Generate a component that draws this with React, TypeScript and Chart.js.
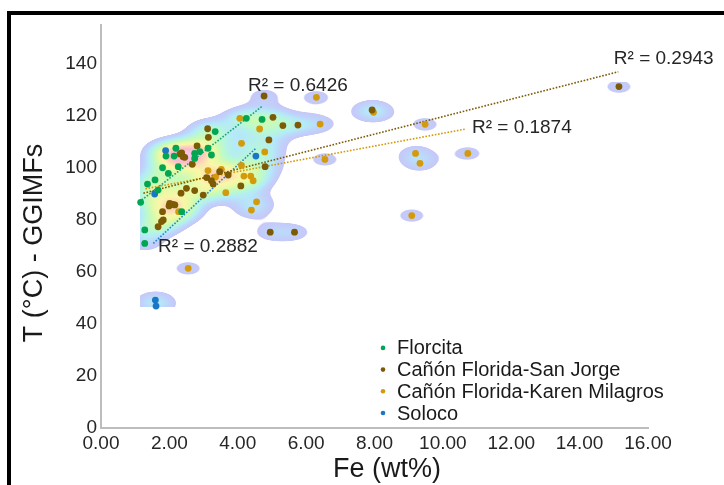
import { useEffect, useRef } from 'react';
import { Chart, registerables } from 'chart.js';
Chart.register(...registerables);

const seriesNames = ['Florcita', 'Cañón Florida-San Jorge', 'Cañón Florida-Karen Milagros', 'Soloco'];
const seriesColors = ['#00a651', '#7d5a05', '#d39a0c', '#1a76c6'];

const florcitaFe = [1.90, 2.19, 2.14, 2.74, 2.89, 2.74, 3.23, 3.13, 3.34, 4.25, 4.71, 1.80, 2.26, 1.97, 1.36, 1.58, 1.67, 1.16, 2.36, 1.28, 1.28];
const florcitaT = [104.6, 107.6, 104.6, 105.6, 106.3, 103.7, 105.0, 107.6, 114.0, 119.1, 118.7, 100.1, 100.5, 97.9, 93.8, 95.4, 91.5, 86.8, 83.2, 76.2, 71.0];

const sanJorgeFe = [4.77, 5.03, 5.32, 5.76, 3.12, 3.14, 4.91, 2.81, 2.31, 2.40, 2.45, 2.36, 2.67, 4.80, 3.09, 3.23, 3.28, 3.72, 3.47, 4.09, 2.50, 2.34, 2.74, 2.99, 2.01, 2.16, 1.99, 2.10, 1.80, 1.82, 1.77, 1.67, 4.95, 5.66, 15.15, 7.93];
const sanJorgeT = [127.7, 119.5, 116.3, 116.5, 115.1, 111.8, 110.8, 108.5, 105.4, 104.3, 104.1, 105.8, 101.4, 100.5, 96.3, 95.1, 93.8, 97.3, 98.6, 93.1, 92.2, 90.3, 91.3, 89.6, 86.4, 85.8, 85.4, 86.0, 83.2, 80.0, 79.4, 77.4, 75.3, 75.3, 131.3, 122.3];

const karenFe = [4.06, 4.64, 6.41, 6.30, 4.11, 4.79, 4.11, 3.13, 3.52, 4.18, 4.38, 4.45, 3.65, 4.55, 4.40, 2.27, 2.55, 6.55, 7.97, 9.48, 9.20, 9.33, 10.73, 9.09, 3.35];
const karenT = [119.1, 115.0, 116.9, 127.2, 109.5, 106.2, 101.0, 99.0, 99.5, 96.9, 96.9, 95.1, 90.5, 87.0, 83.8, 83.2, 61.4, 103.3, 121.4, 116.8, 105.6, 101.8, 105.6, 81.7, 96.5];

const solocoFe = [1.89, 1.57, 4.53, 1.59, 1.61];
const solocoT = [106.7, 90.0, 104.6, 49.2, 46.9];

// trend lines: [start, end] per series (Florcita, San Jorge, Karen Milagros, Soloco)
const trendFe = [[1.19, 4.72], [1.24, 15.13], [1.30, 10.67], [1.53, 4.53]];
const trendT = [[87.7, 123.8], [90.3, 137.0], [92.0, 115.0], [71.0, 107.6]];
const r2Text = ['R² = 0.6426', 'R² = 0.2943', 'R² = 0.1874', 'R² = 0.2882'];
const r2Fe = [4.30, 15.0, 10.85, 1.67];
const r2T = [131.6, 141.9, 115.3, 69.7];

const xTicks = [0, 2, 4, 6, 8, 10, 12, 14, 16];
const yTicks = [0, 20, 40, 60, 80, 100, 120, 140];
const xTitle = 'Fe (wt%)';
const yTitle = 'T (°C) - GGIMFs';

const FONT = "'Liberation Sans', Arial, sans-serif";

const allFe = [...florcitaFe, ...sanJorgeFe, ...karenFe, ...solocoFe];
const allT = [...florcitaT, ...sanJorgeT, ...karenT, ...solocoT];

const TH = 0.78;
const stops: [number, number, number, number][] = [
  [0.78, 198, 200, 248],
  [1.3, 190, 212, 250],
  [1.9, 180, 234, 248],
  [2.7, 184, 248, 214],
  [3.5, 204, 250, 182],
  [4.5, 232, 250, 166],
  [5.5, 250, 246, 168],
  [6.8, 252, 212, 184],
  [8.2, 248, 186, 204],
  [10.0, 244, 200, 238],
];

function colorFor(d: number): [number, number, number, number] {
  const lo = TH - 0.06;
  if (d < lo) return [0, 0, 0, 0];
  if (d < stops[0][0]) {
    const a = (d - lo) / (stops[0][0] - lo);
    return [stops[0][1], stops[0][2], stops[0][3], Math.round(255 * a)];
  }
  for (let i = 0; i < stops.length - 1; i++) {
    const s0 = stops[i], s1 = stops[i + 1];
    if (d < s1[0]) {
      const t = (d - s0[0]) / (s1[0] - s0[0]);
      return [s0[1] + (s1[1] - s0[1]) * t, s0[2] + (s1[2] - s0[2]) * t, s0[3] + (s1[3] - s0[3]) * t, 255];
    }
  }
  const l = stops[stops.length - 1];
  return [l[1], l[2], l[3], 255];
}

const framePlugin = {
  id: 'frame',
  beforeDraw(chart: any) {
    const { ctx, width, height } = chart;
    ctx.save();
    ctx.fillStyle = '#ffffff';
    ctx.fillRect(0, 0, width, height);
    ctx.fillStyle = '#000000';
    ctx.fillRect(7, 11, width - 7, 4);
    ctx.fillRect(7, 11, 4, height - 11);
    ctx.restore();
  },
};

const densityPlugin = {
  id: 'density',
  beforeDatasetsDraw(chart: any) {
    const { ctx, scales } = chart;
    const xs = scales.x, ys = scales.y;
    const px = allFe.map((v) => xs.getPixelForValue(v));
    const py = allT.map((v) => ys.getPixelForValue(v));
    const hx = 15, hy = 8;
    const x0 = Math.floor(xs.getPixelForValue(Math.min(...allFe)));
    const x1 = Math.ceil(xs.getPixelForValue(Math.max(...allFe)) + 14);
    const y0 = Math.floor(ys.getPixelForValue(Math.max(...allT)) - 4);
    const y1 = Math.ceil(ys.getPixelForValue(Math.min(...allT)));
    const w = x1 - x0, h = y1 - y0;
    const off = document.createElement('canvas');
    off.width = w; off.height = h;
    const octx = off.getContext('2d')!;
    const img = octx.createImageData(w, h);
    for (let j = 0; j < h; j++) {
      const yy = y0 + j + 0.5;
      for (let i = 0; i < w; i++) {
        const xx = x0 + i + 0.5;
        let d = 0;
        for (let k = 0; k < px.length; k++) {
          const dx = (xx - px[k]) / hx;
          const dy = (yy - py[k]) / hy;
          if (dx > 3.5 || dx < -3.5 || dy > 3.5 || dy < -3.5) continue;
          d += Math.exp(-0.5 * (dx * dx + dy * dy));
        }
        const c = colorFor(d);
        const o = (j * w + i) * 4;
        img.data[o] = c[0]; img.data[o + 1] = c[1]; img.data[o + 2] = c[2]; img.data[o + 3] = c[3];
      }
    }
    octx.putImageData(img, 0, 0);
    ctx.save();
    ctx.drawImage(off, x0, y0);
    ctx.restore();
  },
};

const annotPlugin = {
  id: 'annot',
  afterDraw(chart: any) {
    const { ctx, scales, chartArea } = chart;
    ctx.save();
    ctx.font = `19px ${FONT}`;
    ctx.fillStyle = '#262626';
    ctx.textAlign = 'left';
    ctx.textBaseline = 'middle';
    r2Text.forEach((t, i) => {
      ctx.fillText(t, scales.x.getPixelForValue(r2Fe[i]), scales.y.getPixelForValue(r2T[i]));
    });
    // legend
    ctx.font = `20px ${FONT}`;
    const lx = chartArea.left + 282;
    const rowH = 21.7;
    const yb = chartArea.bottom - 15;
    seriesNames.forEach((n, i) => {
      const yy = yb - (seriesNames.length - 1 - i) * rowH;
      ctx.fillStyle = seriesColors[i];
      ctx.beginPath();
      ctx.arc(lx, yy, 2.3, 0, Math.PI * 2);
      ctx.fill();
      ctx.fillStyle = '#1a1a1a';
      ctx.fillText(n, lx + 14, yy + 1);
    });
    // axis titles
    ctx.fillStyle = '#1a1a1a';
    ctx.font = `27px ${FONT}`;
    ctx.textAlign = 'center';
    ctx.fillText(xTitle, chartArea.left + 286, chartArea.bottom + 42);
    ctx.translate(35, chartArea.top + 218);
    ctx.rotate(-Math.PI / 2);
    ctx.fillText(yTitle, 0, 0);
    ctx.restore();
  },
};

function pts(xv: number[], yv: number[]) {
  return xv.map((v, i) => ({ x: v, y: yv[i] }));
}

export default function App() {
  const ref = useRef<HTMLCanvasElement>(null);
  useEffect(() => {
    document.body.style.margin = '0';
    const canvas = ref.current!;
    const seriesFe = [florcitaFe, sanJorgeFe, karenFe, solocoFe];
    const seriesT = [florcitaT, sanJorgeT, karenT, solocoT];
    const trendColors = ['#1f9e78', '#7d5a05', '#d39a0c', '#2a7fd0'];
    const datasets: any[] = [];
    trendFe.forEach((tx, i) => {
      datasets.push({
        type: 'line',
        label: 'trend' + i,
        data: pts(tx, trendT[i]),
        borderColor: trendColors[i],
        borderWidth: 1.6,
        borderDash: [1.6, 1.6],
        pointRadius: 0,
        fill: false,
        order: 10,
      });
    });
    seriesNames.forEach((n, i) => {
      datasets.push({
        type: 'scatter',
        label: n,
        data: pts(seriesFe[i], seriesT[i]),
        backgroundColor: seriesColors[i],
        borderWidth: 0,
        pointRadius: 3.4,
        order: 0,
      });
    });
    const chart = new Chart(canvas, {
      type: 'scatter',
      data: { datasets },
      plugins: [framePlugin, densityPlugin, annotPlugin],
      options: {
        animation: false,
        responsive: false,
        layout: { padding: { left: 0, top: 25, right: 76, bottom: 0 } },
        plugins: { legend: { display: false }, tooltip: { enabled: false } },
        scales: {
          x: {
            type: 'linear',
            min: 0,
            max: 16,
            afterFit: (s: any) => { s.height = 57; },
            afterBuildTicks: (s: any) => { s.ticks = xTicks.map((v) => ({ value: v })); },
            grid: { display: false, drawTicks: false },
            border: { display: true, color: '#bdbdbd', width: 2 },
            ticks: {
              padding: 4,
              color: '#262626',
              font: { family: FONT, size: 19 },
              callback: (v: any) => Number(v).toFixed(2),
            },
            title: { display: false },
          },
          y: {
            type: 'linear',
            min: 0,
            max: 155,
            afterFit: (s: any) => { s.width = 101; },
            afterBuildTicks: (s: any) => { s.ticks = yTicks.map((v) => ({ value: v })); },
            grid: { display: false, drawTicks: false },
            border: { display: true, color: '#bdbdbd', width: 2 },
            ticks: {
              padding: 4,
              color: '#262626',
              font: { family: FONT, size: 19 },
            },
            title: { display: false },
          },
        },
      },
    });
    return () => chart.destroy();
  }, []);
  return (
    <div style={{ position: 'fixed', left: 0, top: 0, width: 724, height: 485 }}>
      <canvas ref={ref} width={724} height={485} style={{ width: 724, height: 485, display: 'block' }} />
    </div>
  );
}
